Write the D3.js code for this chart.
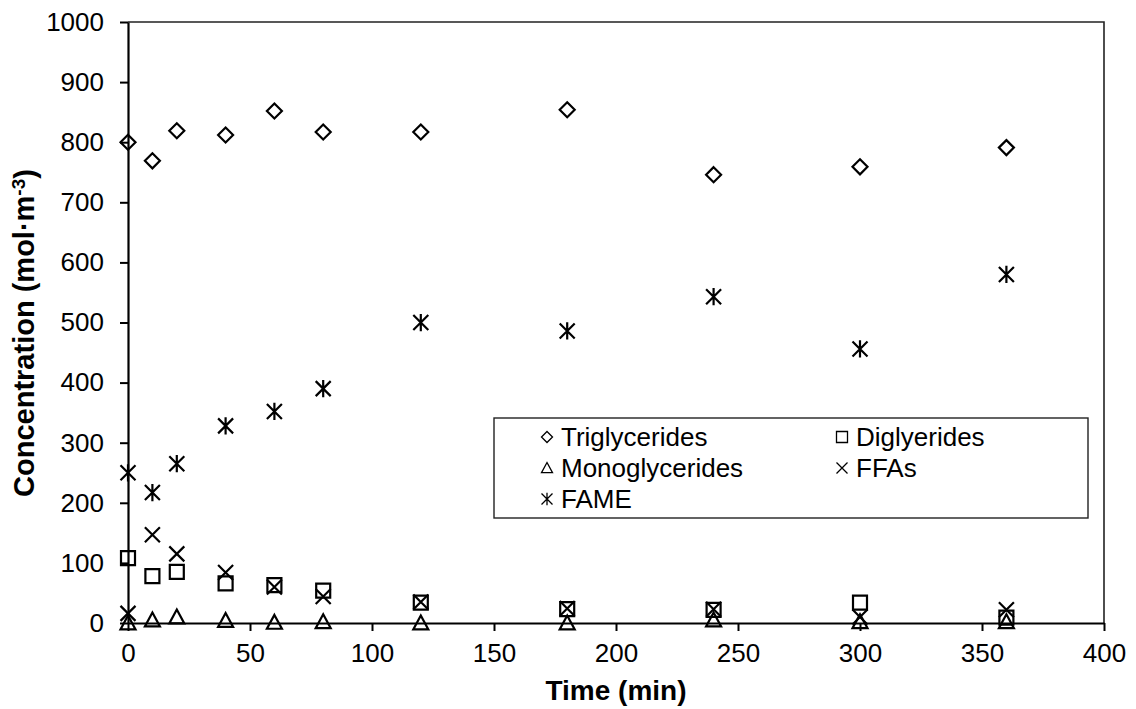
<!DOCTYPE html>
<html>
<head>
<meta charset="utf-8">
<script src="https://cdn.jsdelivr.net/npm/d3@7"></script>
<style>
  html, body { margin: 0; padding: 0; background: #fff; }
  svg { display: block; font-family: "Liberation Sans", Arial, sans-serif; }
</style>
</head>
<body>
<svg id="chart" width="1136" height="709"></svg>
<script>
// Sampling times (min)
const times = [0, 10, 20, 40, 60, 80, 120, 180, 240, 300, 360];

// Concentrations (mol·m^-3)
const triglycerides  = [800, 769, 819, 812, 852, 817, 817, 854, 746, 759, 791];
const diglycerides   = [108, 78, 85, 66, 63, 54, 34, 23, 22, 34, 9];
const monoglycerides = [0, 5, 10, 4, 1, 2, 0, 0, 5, 2, 2];
const ffas           = [16, 147, 115, 84, 60, 44, 35, 24, 23, 10, 22];
const fame           = [250, 217, 265, 328, 352, 390, 500, 486, 543, 456, 580];

const xTicks = [0, 50, 100, 150, 200, 250, 300, 350, 400];
const yTicks = [0, 100, 200, 300, 400, 500, 600, 700, 800, 900, 1000];

const seriesNames = ["Triglycerides", "Diglyerides", "Monoglycerides", "FFAs", "FAME"];
const seriesValues = [triglycerides, diglycerides, monoglycerides, ffas, fame];
const seriesSymbols = ["diamond", "square", "triangle", "cross", "asterisk"];

const svg = d3.select("#chart");
const plotLeft = 128, plotRight = 1104, plotTop = 22, plotBottom = 623;

const x = d3.scaleLinear().domain([0, 400]).range([plotLeft, plotRight]);
const y = d3.scaleLinear().domain([0, 1000]).range([plotBottom, plotTop]);

// Plot area frame (top and right edges)
svg.append("path")
  .attr("d", `M${plotLeft},${plotTop}H${plotRight}V${plotBottom}`)
  .attr("fill", "none").attr("stroke", "#222").attr("stroke-width", 1.6);

// Axes
const fmt = d3.format("d");
const xAxis = svg.append("g").attr("transform", `translate(0,${plotBottom})`)
  .call(d3.axisBottom(x).tickValues(xTicks).tickFormat(fmt).tickSize(8).tickSizeOuter(0).tickPadding(8));
const yAxis = svg.append("g").attr("transform", `translate(${plotLeft},0)`)
  .call(d3.axisLeft(y).tickValues(yTicks).tickFormat(fmt).tickSize(8).tickSizeOuter(0).tickPadding(16));

[xAxis, yAxis].forEach(g => {
  g.select(".domain").attr("stroke", "#000").attr("stroke-width", 2.2);
  g.selectAll(".tick line").attr("stroke", "#000").attr("stroke-width", 2);
  g.selectAll(".tick text").attr("fill", "#000")
    .style("font-size", "26px").style("font-family", "Liberation Sans, Arial, sans-serif");
});
xAxis.selectAll(".tick text").attr("dy", "0.9em");

// Axis titles
svg.append("text")
  .attr("x", 616).attr("y", 700)
  .attr("text-anchor", "middle")
  .style("font-size", "28px").style("font-weight", "bold")
  .text("Time (min)");

const yTitle = svg.append("text")
  .attr("transform", "translate(24,333) rotate(-90)")
  .attr("text-anchor", "middle")
  .attr("dy", "0.36em")
  .style("font-size", "29px").style("font-weight", "bold");
yTitle.append("tspan").text("Concentration (mol·m");
yTitle.append("tspan").attr("dy", "-0.5em").style("font-size", "19px").text("-3");
yTitle.append("tspan").attr("dy", "0.33em").text(")");

// Marker path generators (centered at 0,0; r = half-size)
function markerPath(kind, r) {
  switch (kind) {
    case "diamond":
      return `M0,${-r}L${r},0L0,${r}L${-r},0Z`;
    case "square":
      return `M${-r},${-r}H${r}V${r}H${-r}Z`;
    case "triangle":
      return `M0,${-r}L${r},${r * 0.85}H${-r}Z`;
    case "cross":
      return `M${-r},${-r}L${r},${r}M${r},${-r}L${-r},${r}`;
    case "asterisk":
      return `M${-r},${-r}L${r},${r}M${r},${-r}L${-r},${r}M0,${-r * 1.15}V${r * 1.15}`;
  }
}

// Data points
seriesValues.forEach((vals, i) => {
  const kind = seriesSymbols[i];
  const r = kind === "square" ? 7 : 7.5;
  svg.append("g").selectAll("path")
    .data(times.map((t, j) => ({ t, v: vals[j] })))
    .join("path")
    .attr("transform", d => `translate(${x(d.t)},${y(d.v)})`)
    .attr("d", markerPath(kind, r))
    .attr("fill", "none")
    .attr("stroke", "#000")
    .attr("stroke-width", 2.2);
});

// Legend
const legend = svg.append("g");
legend.append("rect")
  .attr("x", 494).attr("y", 418).attr("width", 594).attr("height", 100)
  .attr("fill", "#fff").attr("stroke", "#222").attr("stroke-width", 1.4);

const legendPos = [
  [547, 437], [842, 437],
  [547, 468], [842, 468],
  [547, 499]
];
seriesNames.forEach((name, i) => {
  const [lx, ly] = legendPos[i];
  legend.append("path")
    .attr("transform", `translate(${lx},${ly})`)
    .attr("d", markerPath(seriesSymbols[i], 5.5))
    .attr("fill", "none").attr("stroke", "#000").attr("stroke-width", 1.3);
  legend.append("text")
    .attr("x", lx + 14).attr("y", ly).attr("dy", "0.36em")
    .style("font-size", "26px")
    .text(name);
});
</script>
</body>
</html>
